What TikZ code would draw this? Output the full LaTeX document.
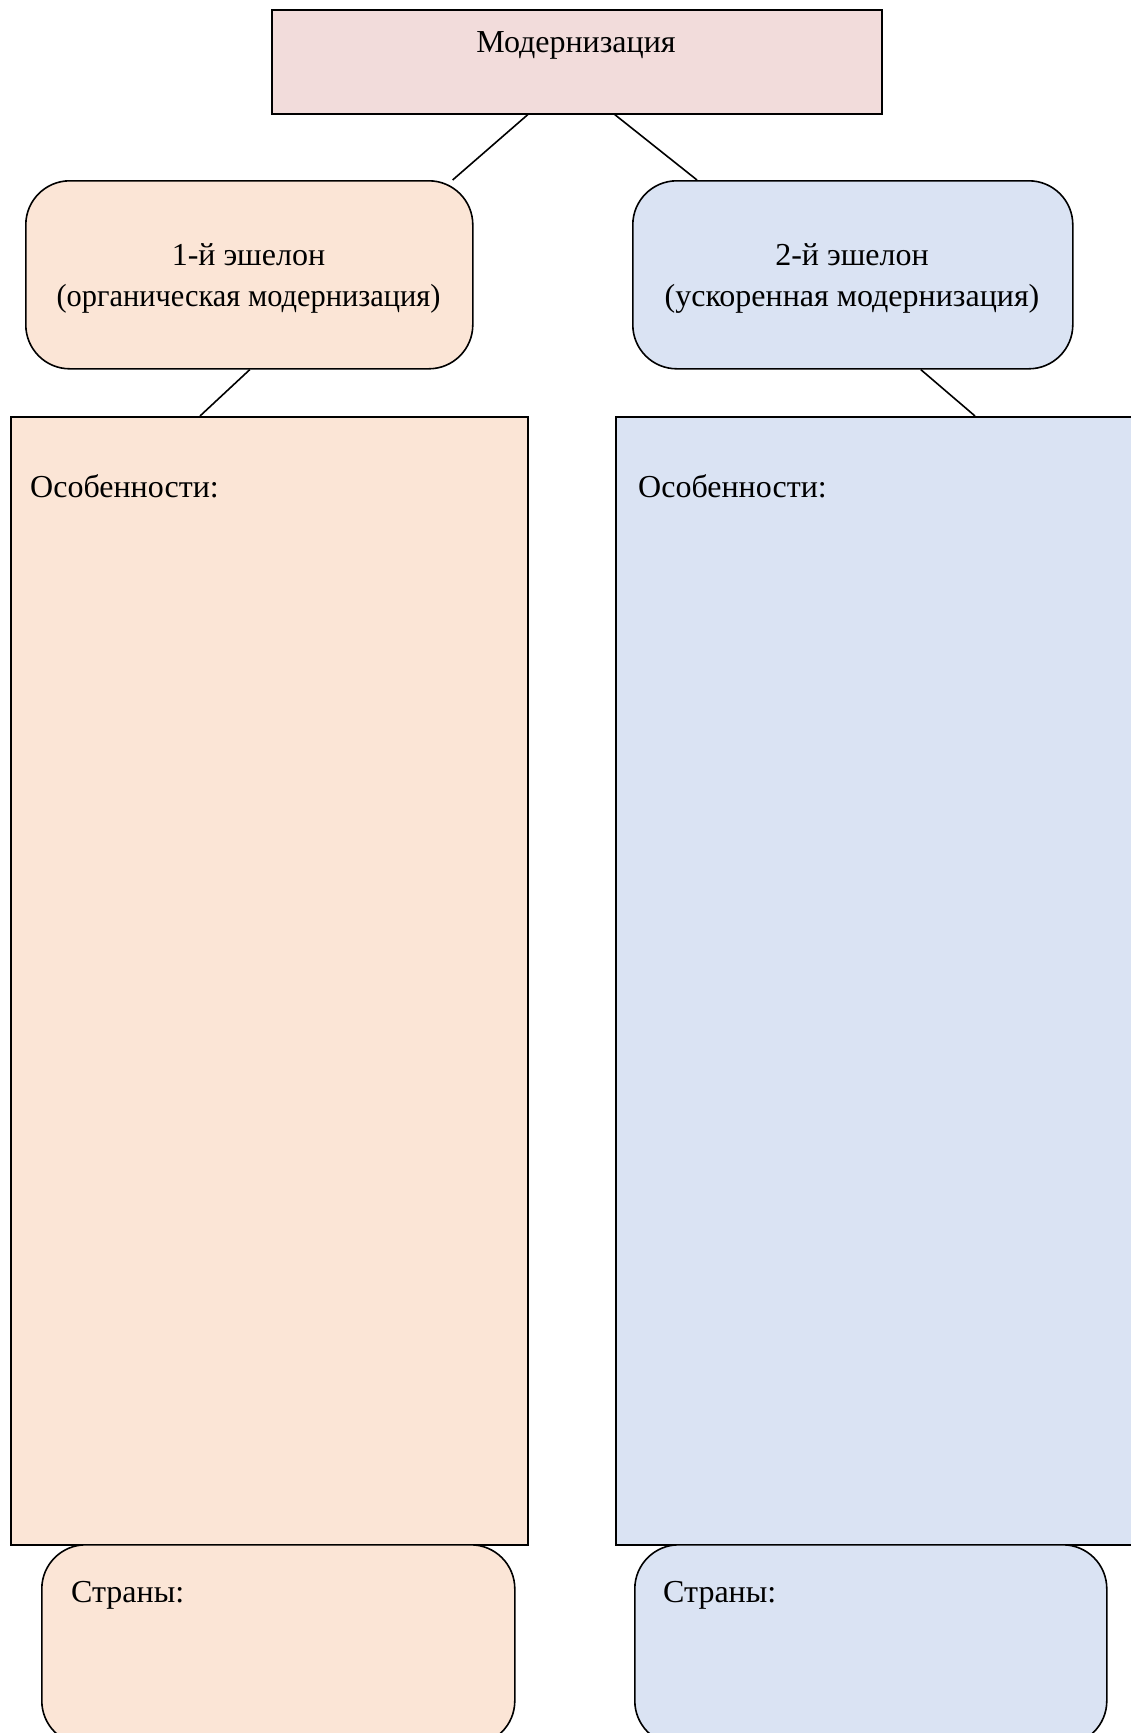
\documentclass[tikz,border=0pt]{standalone}
\usepackage{fontspec}
\setmainfont{Liberation Serif}
\definecolor{topfill}{HTML}{F2DCDB}
\definecolor{peach}{HTML}{FBE5D6}
\definecolor{bluefill}{HTML}{DAE3F3}
\tikzset{
  box/.style={draw=black, line width=1.6pt, inner sep=0pt, anchor=north west},
  rbox/.style={box, rounded corners=44pt},
  txt/.style={inner sep=0pt, font=\fontsize{32}{41}\selectfont, align=center},
  ltxt/.style={inner sep=0pt, font=\fontsize{32}{41}\selectfont, anchor=west},
  conn/.style={draw=black, line width=1.6pt}
}
\begin{document}
\begin{tikzpicture}[x=1pt,y=-1pt]
\useasboundingbox (0,0) rectangle (1131,1733);
% top
\node[box, fill=topfill, minimum width=610pt, minimum height=104pt] (top) at (271,9) {};
\node[txt] (toptxt) at (576,45) {Модернизация};
% echelons
\node[rbox, fill=peach, minimum width=447pt, minimum height=188pt] (e1) at (25,180) {};
\node[txt] (e1txt) at (248.5,278) {1-й эшелон\\\scalebox{0.95}[1]{(органическая модернизация)}};
\node[rbox, fill=bluefill, minimum width=440pt, minimum height=188pt] (e2) at (632,180) {};
\node[txt] (e2txt) at (852,278) {2-й эшелон\\(ускоренная модернизация)};
% big boxes
\node[box, fill=peach, minimum width=517pt, minimum height=1128pt] (f1) at (10,416) {};
\node[ltxt] (f1txt) at (30,486) {Особенности:};
\node[box, fill=bluefill, minimum width=540pt, minimum height=1128pt] (f2) at (615,416) {};
\node[ltxt] (f2txt) at (638,486) {Особенности:};
% countries
\node[rbox, fill=peach, minimum width=473pt, minimum height=200pt] (c1) at (41,1544) {};
\node[ltxt] (c1txt) at (71,1595) {Страны:};
\node[rbox, fill=bluefill, minimum width=472pt, minimum height=200pt] (c2) at (634,1544) {};
\node[ltxt] (c2txt) at (663,1595) {Страны:};
% connectors
\draw[conn] ([xshift=-49pt]top.south) -- ([xshift=-21pt]e1.north east);
\draw[conn] ([xshift=38pt]top.south) -- ([xshift=65pt]e2.north west);
\draw[conn] ([xshift=0.5pt]e1.south) -- ([xshift=190pt]f1.north west);
\draw[conn] ([xshift=68pt]e2.south) -- ([xshift=360pt]f2.north west);
\end{tikzpicture}
\end{document}
